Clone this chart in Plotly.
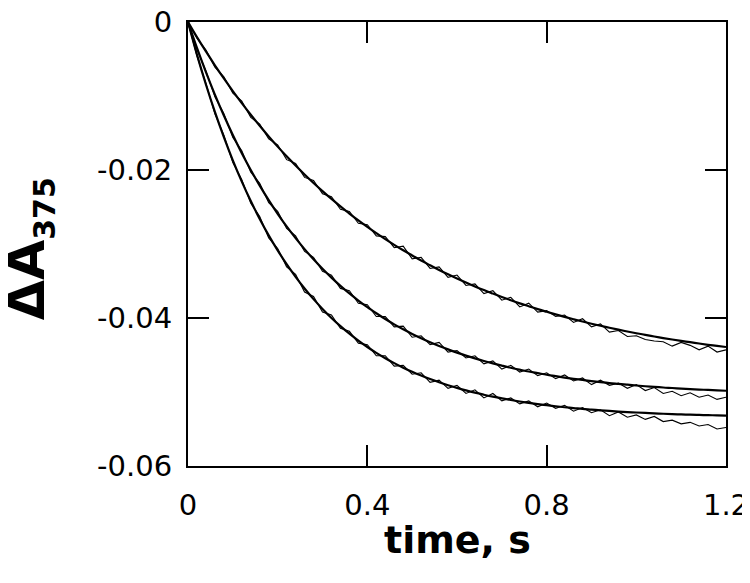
import plotly.graph_objects as go

# time axis (s) for data and fits
time = [0.00, 0.02, 0.04, 0.06, 0.08, 0.10, 0.12, 0.14, 0.16, 0.18,
        0.20, 0.22, 0.24, 0.26, 0.28, 0.30, 0.32, 0.34, 0.36, 0.38,
        0.40, 0.42, 0.44, 0.46, 0.48, 0.50, 0.52, 0.54, 0.56, 0.58,
        0.60, 0.62, 0.64, 0.66, 0.68, 0.70, 0.72, 0.74, 0.76, 0.78,
        0.80, 0.82, 0.84, 0.86, 0.88, 0.90, 0.92, 0.94, 0.96, 0.98,
        1.00, 1.02, 1.04, 1.06, 1.08, 1.10, 1.12, 1.14, 1.16, 1.18, 1.20]

# observed traces (noisy)
data_slow = [0.0000, -0.0022, -0.0038, -0.0061, -0.0074, -0.0096, -0.0107, -0.0129, -0.0138, -0.0158,
             -0.0166, -0.0186, -0.0191, -0.0210, -0.0214, -0.0232, -0.0236, -0.0253, -0.0256, -0.0272,
             -0.0274, -0.0289, -0.0290, -0.0305, -0.0303, -0.0320, -0.0318, -0.0333, -0.0331, -0.0345,
             -0.0342, -0.0356, -0.0354, -0.0367, -0.0363, -0.0376, -0.0372, -0.0385, -0.0380, -0.0392,
             -0.0390, -0.0398, -0.0396, -0.0406, -0.0401, -0.0412, -0.0408, -0.0419, -0.0417, -0.0425,
             -0.0424, -0.0429, -0.0431, -0.0432, -0.0438, -0.0433, -0.0437, -0.0443, -0.0438, -0.0446, -0.0443]

data_mid = [0.0000, -0.0037, -0.0066, -0.0101, -0.0124, -0.0156, -0.0174, -0.0203, -0.0218, -0.0244,
            -0.0256, -0.0279, -0.0289, -0.0310, -0.0318, -0.0337, -0.0342, -0.0360, -0.0363, -0.0380,
            -0.0382, -0.0398, -0.0398, -0.0412, -0.0411, -0.0426, -0.0424, -0.0436, -0.0433, -0.0446,
            -0.0444, -0.0454, -0.0451, -0.0462, -0.0458, -0.0469, -0.0464, -0.0473, -0.0469, -0.0478,
            -0.0474, -0.0482, -0.0477, -0.0485, -0.0481, -0.0490, -0.0484, -0.0491, -0.0488, -0.0495,
            -0.0490, -0.0498, -0.0494, -0.0502, -0.0499, -0.0505, -0.0501, -0.0507, -0.0504, -0.0510, -0.0507]

data_fast = [0.0000, -0.0046, -0.0083, -0.0124, -0.0153, -0.0190, -0.0213, -0.0245, -0.0263, -0.0292,
             -0.0306, -0.0331, -0.0341, -0.0365, -0.0371, -0.0392, -0.0396, -0.0414, -0.0418, -0.0434,
             -0.0436, -0.0451, -0.0451, -0.0465, -0.0464, -0.0476, -0.0474, -0.0487, -0.0484, -0.0495,
             -0.0491, -0.0502, -0.0497, -0.0508, -0.0502, -0.0512, -0.0508, -0.0516, -0.0512, -0.0520,
             -0.0515, -0.0522, -0.0518, -0.0526, -0.0521, -0.0528, -0.0524, -0.0532, -0.0527, -0.0534,
             -0.0531, -0.0537, -0.0533, -0.0540, -0.0538, -0.0543, -0.0541, -0.0546, -0.0544, -0.0550, -0.0548]

# fitted single-exponential curves
fit_slow = [0.00000, -0.00204, -0.00398, -0.00585, -0.00763, -0.00934, -0.01097, -0.01254, -0.01403, -0.01547,
            -0.01684, -0.01815, -0.01940, -0.02060, -0.02175, -0.02285, -0.02391, -0.02491, -0.02588, -0.02680,
            -0.02768, -0.02853, -0.02934, -0.03011, -0.03085, -0.03155, -0.03224, -0.03288, -0.03350, -0.03410,
            -0.03467, -0.03521, -0.03573, -0.03623, -0.03670, -0.03716, -0.03760, -0.03802, -0.03841, -0.03880,
            -0.03916, -0.03951, -0.03985, -0.04017, -0.04047, -0.04077, -0.04105, -0.04132, -0.04158, -0.04182,
            -0.04206, -0.04229, -0.04250, -0.04271, -0.04291, -0.04310, -0.04327, -0.04345, -0.04362, -0.04377, -0.04392]

fit_mid = [0.00000, -0.00351, -0.00677, -0.00981, -0.01264, -0.01527, -0.01772, -0.01999, -0.02211, -0.02408,
           -0.02592, -0.02763, -0.02921, -0.03069, -0.03207, -0.03335, -0.03454, -0.03565, -0.03668, -0.03764,
           -0.03854, -0.03936, -0.04014, -0.04086, -0.04153, -0.04215, -0.04273, -0.04327, -0.04377, -0.04424,
           -0.04468, -0.04508, -0.04546, -0.04581, -0.04613, -0.04643, -0.04672, -0.04698, -0.04723, -0.04745,
           -0.04767, -0.04786, -0.04805, -0.04822, -0.04837, -0.04852, -0.04866, -0.04879, -0.04890, -0.04901,
           -0.04912, -0.04922, -0.04930, -0.04939, -0.04946, -0.04954, -0.04961, -0.04967, -0.04972, -0.04978, -0.04983]

fit_fast = [0.00000, -0.00441, -0.00845, -0.01216, -0.01557, -0.01870, -0.02157, -0.02420, -0.02661, -0.02883,
            -0.03086, -0.03273, -0.03444, -0.03601, -0.03745, -0.03877, -0.03999, -0.04110, -0.04212, -0.04306,
            -0.04392, -0.04471, -0.04543, -0.04610, -0.04671, -0.04727, -0.04778, -0.04825, -0.04869, -0.04908,
            -0.04944, -0.04978, -0.05009, -0.05037, -0.05063, -0.05086, -0.05108, -0.05128, -0.05146, -0.05163,
            -0.05178, -0.05193, -0.05206, -0.05217, -0.05229, -0.05238, -0.05248, -0.05256, -0.05264, -0.05271,
            -0.05277, -0.05283, -0.05288, -0.05294, -0.05299, -0.05303, -0.05307, -0.05310, -0.05313, -0.05316, -0.05320]

x_tickvals = [0, 0.4, 0.8, 1.2]
x_ticktext = ["0", "0.4", "0.8", "1.2"]
y_tickvals = [0, -0.02, -0.04, -0.06]
y_ticktext = ["0", "-0.02", "-0.04", "-0.06"]

fig = go.Figure()
for d in (data_slow, data_mid, data_fast):
    fig.add_trace(go.Scatter(x=time, y=d, mode="lines",
                             line=dict(color="black", width=1.1), showlegend=False, hoverinfo="skip"))
for f in (fit_slow, fit_mid, fit_fast):
    fig.add_trace(go.Scatter(x=time, y=f, mode="lines", line_shape="spline",
                             line=dict(color="black", width=2.2), showlegend=False, hoverinfo="skip"))

axis_common = dict(showline=True, linecolor="black", linewidth=2.2, mirror="ticks",
                   ticks="inside", ticklen=21, tickwidth=2.2, tickcolor="black",
                   showgrid=False, zeroline=False, automargin=False,
                   ticklabeloverflow="allow",
                   tickfont=dict(family="DejaVu Sans", size=29, color="black"))

fig.update_xaxes(range=[0, 1.2], tickvals=x_tickvals, ticktext=x_ticktext,
                 ticklabelstandoff=12, **axis_common)
fig.update_yaxes(range=[-0.06, 0], tickvals=y_tickvals, ticktext=y_ticktext,
                 ticklabelstandoff=8, **axis_common)

fig.add_annotation(text="time, s", xref="paper", yref="paper", x=0.5, y=-0.167,
                   xanchor="center", yanchor="middle", showarrow=False,
                   font=dict(family="DejaVu Sans", size=38, color="black", weight="bold"))
fig.add_annotation(text="ΔA<sub><span style='font-size:30px'>375</span></sub>",
                   xref="paper", yref="paper", x=-0.294, y=0.49,
                   xanchor="center", yanchor="middle", textangle=-90, showarrow=False,
                   font=dict(family="DejaVu Sans", size=52, color="black", weight="bold"))

fig.update_layout(width=750, height=583, margin=dict(l=180, r=32, t=14, b=125),
                  plot_bgcolor="white", paper_bgcolor="white")

fig.write_html("out.html")
